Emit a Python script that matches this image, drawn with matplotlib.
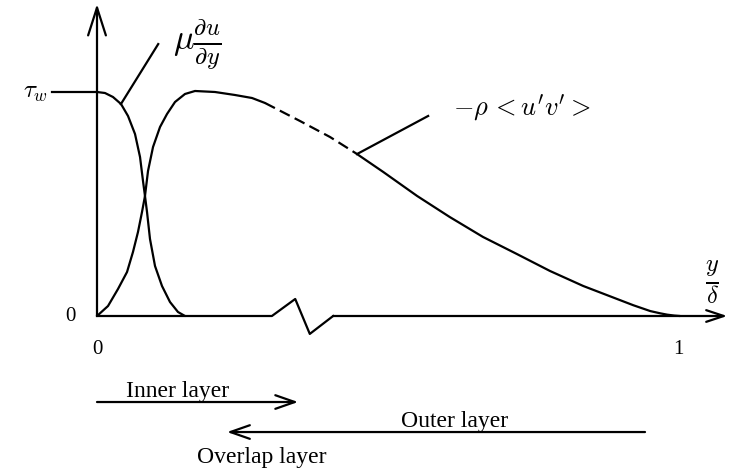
import matplotlib
matplotlib.use("Agg")
import matplotlib.pyplot as plt

plt.rcParams['mathtext.fontset'] = 'cm'
plt.rcParams['font.family'] = ['Liberation Serif', 'DejaVu Serif']

# viscous stress  mu du/dy  (x = y/delta, value = tau/tau_w)
visc_x = [0.0, 0.0137, 0.0274, 0.0412, 0.0532, 0.0652, 0.0738, 0.0789, 0.0823,
          0.0858, 0.0909, 0.0995, 0.1115, 0.1252, 0.1389, 0.1509]
visc_y = [1.0, 0.9955, 0.9777, 0.9464, 0.8929, 0.8125, 0.7098, 0.6027, 0.5357,
          0.4643, 0.3438, 0.2232, 0.1339, 0.0625, 0.0179, 0.0]

# turbulent stress -rho<u'v'>, split into solid / dashed / solid parts
turb_x1 = [0.0, 0.0189, 0.0360, 0.0515, 0.0617, 0.0703, 0.0772, 0.0823, 0.0875,
           0.0961, 0.1081, 0.1201, 0.1338, 0.1509, 0.1681, 0.2024, 0.2367, 0.2659, 0.2882]
turb_y1 = [0.0, 0.0446, 0.1205, 0.1964, 0.2857, 0.375, 0.4643, 0.5357, 0.6473,
           0.7545, 0.8438, 0.9018, 0.9554, 0.9911, 1.0045, 1.0, 0.9866, 0.9732, 0.9509]
turb_x2 = [0.2882, 0.3482, 0.3997, 0.4460]
turb_y2 = [0.9509, 0.8705, 0.7991, 0.7232]
turb_x3 = [0.446, 0.491, 0.549, 0.605, 0.662, 0.720, 0.777, 0.834, 0.892, 0.920,
           0.949, 0.966, 0.978, 0.990, 1.0]
turb_y3 = [0.723, 0.643, 0.536, 0.442, 0.353, 0.277, 0.201, 0.134, 0.076, 0.048,
           0.022, 0.012, 0.006, 0.002, 0.0]

# break mark on the y/delta axis
axis_x = [0.0, 0.300, 0.340, 0.365, 0.405]
axis_y = [0.0, 0.0, 0.076, -0.080, 0.0]

# layer extents (start, end) in y/delta
inner_layer = (0.0, 0.345)
outer_layer = (0.940, 0.223)

fig = plt.figure(figsize=(7.30, 4.77), dpi=100)
ax = fig.add_axes([0, 0, 1, 1])
ax.set_xlim(-97 / 583, 633 / 583)
ax.set_ylim(-160 / 224, 317 / 224)
ax.axis('off')

lw = 1.6
k = 'black'
curve = dict(color=k, lw=lw, solid_joinstyle='round', solid_capstyle='round')

ax.plot(visc_x, visc_y, **curve)
ax.plot(turb_x1, turb_y1, **curve)
ax.plot(turb_x2, turb_y2, color=k, lw=lw, dashes=(5, 2.5))
ax.plot(turb_x3, turb_y3, **curve)

# axes
ax.plot(axis_x, axis_y, color=k, lw=lw)
ax.annotate('', xy=(1.081, 0), xytext=(axis_x[-1], 0),
            arrowprops=dict(arrowstyle='->,head_length=0.9,head_width=0.3',
                            mutation_scale=14, lw=lw, color=k, shrinkA=0, shrinkB=0))
ax.annotate('', xy=(0, 1.393), xytext=(0, 0),
            arrowprops=dict(arrowstyle='->,head_length=1.0,head_width=0.32',
                            mutation_scale=20, lw=lw, color=k, shrinkA=0, shrinkB=0))
ax.plot([-0.077, 0], [1, 1], color=k, lw=lw)

# leader lines
ax.plot([0.041, 0.105], [0.946, 1.214], color=k, lw=lw)
ax.plot([0.446, 0.568], [0.723, 0.893], color=k, lw=lw)

# labels
ax.text(-0.106, 1.0, r'$\tau_w$', fontsize=18, ha='center', va='center')
ax.text(-0.046, 0.0, '0', fontsize=15, ha='center', va='center')
ax.text(0.0, -0.147, '0', fontsize=15, ha='center', va='center')
ax.text(0.997, -0.147, '1', fontsize=15, ha='center', va='center')
ax.text(1.055, 0.152, r'$\frac{y}{\delta}$', fontsize=25, ha='center', va='center')
ax.text(0.172, 1.214, r'$\mu\frac{\partial u}{\partial y}$', fontsize=25, ha='center', va='center')
ax.text(0.729, 0.933, r"$-\rho\,<u'v'>$", fontsize=19, ha='center', va='center')

# layer arrows
arr = dict(arrowstyle='->,head_length=1.0,head_width=0.35', mutation_scale=14,
           lw=lw, color=k, shrinkA=0, shrinkB=0)
ax.annotate('', xy=(inner_layer[1], -0.384), xytext=(inner_layer[0], -0.384), arrowprops=arr)
ax.annotate('', xy=(outer_layer[1], -0.518), xytext=(outer_layer[0], -0.518), arrowprops=arr)
ax.text(0.139, -0.357, 'Inner layer', fontsize=17, ha='center', va='baseline')
ax.text(0.614, -0.491, 'Outer layer', fontsize=17, ha='center', va='baseline')
ax.text(0.283, -0.652, 'Overlap layer', fontsize=17, ha='center', va='baseline')

fig.savefig('out.png', dpi=100)
